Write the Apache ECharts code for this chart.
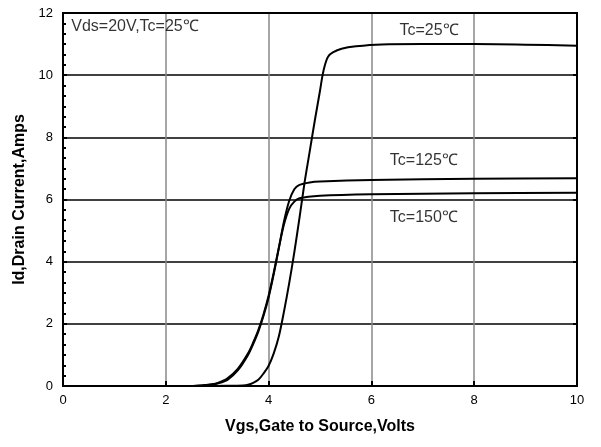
<!DOCTYPE html>
<html>
<head>
<meta charset="utf-8">
<script src="https://cdn.jsdelivr.net/npm/echarts@6/dist/echarts.min.js"></script>
<style>
  html, body { margin: 0; padding: 0; background: #fff; }
  #chart { width: 601px; height: 447px; }
</style>
</head>
<body>
<div id="chart"></div>
<script>
// Transfer characteristics: drain current vs gate-source voltage
const xTicks = [0, 2, 4, 6, 8, 10];
const yTicks = [0, 2, 4, 6, 8, 10, 12];

const vgs25 = [0, 2.5, 3.2, 3.5, 3.6, 3.7, 3.8, 3.9, 4.0, 4.1, 4.2, 4.3, 4.4, 4.5, 4.6, 4.7, 4.8, 4.9, 5.0, 5.05, 5.1, 5.16, 5.25, 5.42, 5.7, 6.2, 7, 8, 9, 10];
const id25  = [0, 0, 0.01, 0.02, 0.04, 0.1, 0.2, 0.4, 0.65, 1.05, 1.6, 2.4, 3.3, 4.3, 5.4, 6.55, 7.55, 8.55, 9.5, 10.0, 10.35, 10.6, 10.73, 10.85, 10.93, 10.99, 11.0, 11.0, 10.98, 10.95];

const vgs125 = [0, 2.4, 2.7, 2.9, 3.0, 3.2, 3.4, 3.6, 3.7, 3.8, 3.9, 4.0, 4.1, 4.2, 4.3, 4.4, 4.5, 4.6, 4.8, 5.0, 6, 8, 10];
const id125  = [0, 0, 0.02, 0.05, 0.08, 0.2, 0.5, 1.0, 1.35, 1.75, 2.25, 2.85, 3.6, 4.45, 5.3, 5.95, 6.33, 6.47, 6.55, 6.58, 6.63, 6.67, 6.68];

const vgs150 = [0, 2.4, 2.7, 2.9, 3.0, 3.2, 3.4, 3.6, 3.7, 3.8, 3.9, 4.0, 4.1, 4.2, 4.3, 4.4, 4.5, 4.6, 5.0, 6, 8, 10];
const id150  = [0, 0, 0.02, 0.06, 0.09, 0.25, 0.55, 1.05, 1.4, 1.8, 2.3, 2.9, 3.65, 4.45, 5.2, 5.7, 5.93, 6.04, 6.12, 6.17, 6.2, 6.22];

// curve captions, placed in data coordinates
const captions = [
  { text: 'Vds=20V,Tc=25℃', x: 0.16, y: 11.57, align: 'left' },
  { text: 'Tc=25℃', x: 7.12, y: 11.44, align: 'center' },
  { text: 'Tc=125℃', x: 7.02, y: 7.26, align: 'center' },
  { text: 'Tc=150℃', x: 7.02, y: 5.42, align: 'center' }
];

const zip = (xs, ys) => xs.map((x, i) => [x, ys[i]]);
const FONT = 'Liberation Sans, Arial, sans-serif';

const curve = (name, xs, ys) => ({
  name, type: 'line', data: zip(xs, ys), smooth: 0.3, showSymbol: false,
  lineStyle: { color: '#000', width: 2 }, z: 5
});

const chart = echarts.init(document.getElementById('chart'));
chart.setOption({
  backgroundColor: '#fff',
  animation: false,
  grid: { left: 63, top: 13, right: 24, bottom: 61, show: true, borderColor: '#000', borderWidth: 2, z: 10 },
  xAxis: {
    type: 'value', min: xTicks[0], max: xTicks[xTicks.length - 1], interval: 2,
    name: 'Vgs,Gate to Source,Volts', nameLocation: 'middle', nameGap: 33,
    nameTextStyle: { fontFamily: FONT, fontWeight: 'bold', fontSize: 16, color: '#000' },
    axisLine: { lineStyle: { color: '#000', width: 2 } },
    axisTick: { inside: true, length: 5, lineStyle: { color: '#000', width: 2 } },
    axisLabel: { fontFamily: FONT, fontSize: 13, color: '#000', margin: 8 },
    splitLine: { show: true, lineStyle: { color: '#888', width: 1.5 } }
  },
  yAxis: [{
    type: 'value', min: yTicks[0], max: yTicks[yTicks.length - 1], interval: 2,
    name: 'Id,Drain Current,Amps', nameLocation: 'middle', nameGap: 34,
    nameTextStyle: { fontFamily: FONT, fontWeight: 'bold', fontSize: 16, color: '#000' },
    axisLine: { show: true, lineStyle: { color: '#000', width: 2 } },
    axisTick: { inside: true, length: 4, lineStyle: { color: '#000', width: 2 } },
    minorTick: { show: true, splitNumber: 6, length: 3, lineStyle: { color: '#000', width: 2 } },
    axisLabel: { fontFamily: FONT, fontSize: 13, color: '#000', margin: 10 },
    splitLine: { show: true, lineStyle: { color: '#000', width: 1.5 } }
  }, {
    type: 'value', position: 'right', min: 0, max: 12, interval: 2,
    axisLine: { show: true, lineStyle: { color: '#000', width: 2 } },
    axisTick: { inside: true, length: 4, lineStyle: { color: '#000', width: 2 } },
    axisLabel: { show: false }, splitLine: { show: false }
  }],
  series: [
    curve('Tc=25℃', vgs25, id25),
    curve('Tc=125℃', vgs125, id125),
    curve('Tc=150℃', vgs150, id150),
    {
      type: 'scatter', symbolSize: 0, silent: true, z: 6,
      data: captions.map(c => ({
        value: [c.x, c.y],
        label: { show: true, formatter: c.text, align: c.align, position: 'inside',
                 fontFamily: FONT, fontSize: 16, color: '#000' }
      }))
    }
  ]
});
</script>
</body>
</html>
